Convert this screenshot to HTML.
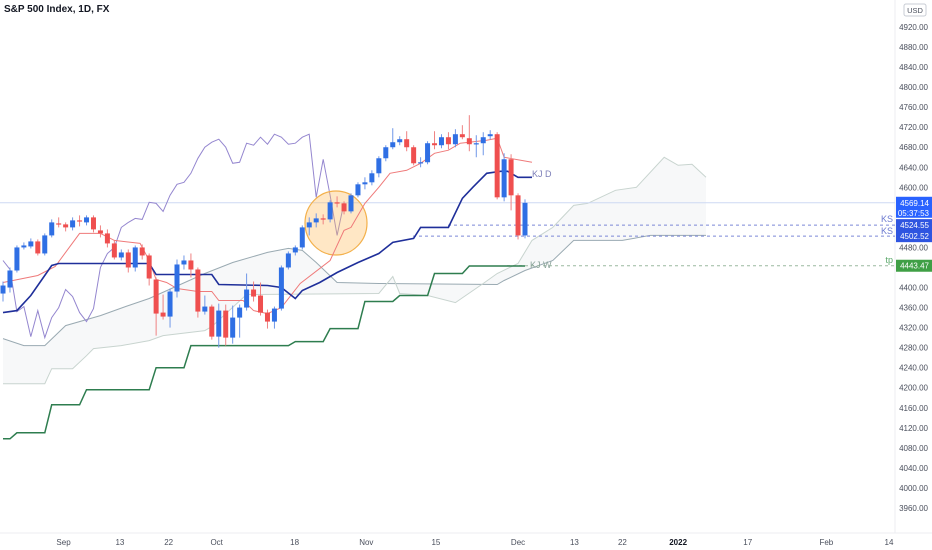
<!DOCTYPE html>
<html><head><meta charset="utf-8">
<style>
html,body{margin:0;padding:0;background:#fff;}
body{width:932px;height:550px;overflow:hidden;position:relative;font-family:"Liberation Sans",sans-serif;}
#chart{position:absolute;left:0;top:0;}
.title{position:absolute;left:4px;top:4px;font-size:10px;font-weight:bold;color:#131722;}
</style></head>
<body>
<div class="title">S&amp;P 500 Index, 1D, FX</div>
<svg id="chart" width="932" height="550" xmlns="http://www.w3.org/2000/svg"></svg>
<script>
// ---- data ----
const opens  = [4388,4400,4434,4480,4482,4492,4468,4504,4528,4526,4520,4534,4530,4540,4514,4508,4488,4460,4470,4440,4480,4464,4416,4350,4342,4392,4446,4454,4436,4352,4362,4302,4354,4300,4340,4360,4396,4384,4350,4332,4358,4440,4470,4480,4520,4530,4538,4536,4570,4568,4552,4584,4606,4610,4628,4658,4680,4690,4696,4680,4648,4650,4688,4684,4700,4686,4706,4698,4686,4688,4702,4706,4580,4656,4584,4504];
const closes = [4404,4434,4480,4484,4492,4468,4504,4530,4526,4520,4534,4532,4540,4516,4508,4488,4460,4470,4440,4480,4464,4418,4348,4342,4392,4446,4454,4436,4352,4362,4302,4354,4300,4340,4360,4396,4382,4350,4332,4358,4440,4468,4480,4520,4530,4538,4536,4570,4568,4552,4584,4606,4610,4628,4658,4680,4690,4696,4680,4648,4650,4688,4684,4700,4686,4706,4700,4686,4688,4700,4706,4580,4656,4584,4504,4569];
const highs  = [4412,4440,4484,4490,4498,4496,4508,4536,4540,4530,4540,4544,4544,4544,4524,4516,4494,4476,4476,4484,4486,4468,4420,4386,4398,4456,4464,4468,4440,4384,4366,4368,4366,4364,4366,4428,4412,4410,4356,4362,4444,4472,4484,4524,4540,4548,4546,4574,4582,4572,4588,4610,4620,4634,4662,4684,4718,4702,4712,4684,4660,4692,4712,4706,4710,4716,4724,4744,4704,4710,4714,4710,4668,4666,4588,4576];
const lows   = [4372,4390,4430,4476,4478,4464,4464,4500,4520,4512,4514,4522,4524,4510,4500,4480,4456,4454,4430,4432,4456,4404,4304,4336,4320,4380,4436,4420,4340,4346,4296,4280,4284,4288,4300,4354,4372,4344,4318,4318,4354,4436,4464,4476,4504,4520,4526,4530,4560,4546,4548,4580,4596,4604,4620,4652,4676,4684,4672,4644,4640,4646,4676,4678,4676,4680,4696,4672,4660,4664,4696,4576,4572,4554,4496,4498];
const kijunIdx = [0,2,4,7,8,21,22,30,31,38,40,42,43,45.5,48,51,54,56,59,60,64,66,67.5,69.5,71.5,72.5,74,76];
const kijunVal = [4350,4354,4384,4444,4448,4448,4426,4426,4406,4404,4400,4378,4394,4410,4430,4450,4468,4490,4498,4520,4520,4578,4600,4628,4632,4632,4620,4620];
const tenkanIdx = [0,5,7.5,11,14,16,19.7,21,22,23.5,25,28,30,31,34.5,36,38,40,42.7,47,49,50,52,54,55.6,58,60,62,64,65.7,69.5,71,72,76];
const tenkanVal = [4410,4424,4442,4508,4508,4494,4488,4454,4416,4410,4398,4392,4392,4374,4374,4354,4348,4360,4408,4454,4514,4520,4568,4600,4628,4634,4648,4668,4674,4688,4694,4698,4660,4650];
const spanAIdx = [0,3,6,9,14,18,21,29,33,38,41,43,45,48,54,71,72,75,79,82,89,93,101];
const spanAVal = [4298,4284,4284,4324,4344,4364,4378,4428,4450,4470,4478,4474,4450,4410,4408,4406,4414,4434,4454,4494,4494,4504,4504];
const spanBIdx = [0,6,7,10,12,13,17,21,23,29,30,35,54,56,57,61,65,69,71,74,76,79,82,84,88,91,95,97,99,101];
const spanBVal = [4208,4208,4238,4238,4264,4278,4284,4294,4304,4314,4322,4386,4388,4422,4388,4384,4370,4408,4428,4448,4494,4520,4564,4568,4594,4600,4660,4644,4646,4620];
const weekIdx = [0,2,7,12,22,27,42,47,52,57,62,67];
const weekVal = [4098,4110,4166,4196,4240,4284,4292,4318,4372,4384,4428,4443];
const chikouShift = 26;
const priceTicks = [4920,4880,4840,4800,4760,4720,4680,4640,4600,4560,4520,4480,4440,4400,4360,4320,4280,4240,4200,4160,4120,4080,4040,4000,3960];
const dateLabels = ["Sep","13","22","Oct","18","Nov","15","Dec","13","22","2022","17","Feb","14"];
const dateIdx = [8.7,16.8,23.8,30.7,41.9,52.2,62.2,74,82.1,89,97,107,118.3,127.3];
const lastPrice = 4569.14, ksHigh = 4524.55, ksLow = 4502.52, tpLevel = 4443.47;

// ---- scales ----
const X = i => 3 + i * 6.96;
const Y = p => 27 + (4920 - p) * 0.501;
const svg = document.getElementById('chart');
const NS = 'http://www.w3.org/2000/svg';
function mk(tag, attrs, parent){ const e=document.createElementNS(NS,tag); for(const k in attrs) e.setAttribute(k,attrs[k]); (parent||svg).appendChild(e); return e; }
function pts(idx, vals){ return idx.map((i,k)=>X(i).toFixed(1)+','+Y(vals[k]).toFixed(1)).join(' '); }

let e;
e = mk('line',{x1:895,y1:0,x2:895,y2:533,stroke:'#eceef2','stroke-width':1});


e = mk('line',{x1:0,y1:533,x2:932,y2:533,stroke:'#eceef2','stroke-width':1});



// cloud
const cloudPts = pts(spanAIdx, spanAVal) + ' ' + pts(spanBIdx.slice().reverse(), spanBVal.slice().reverse());
e = mk('polygon',{points:cloudPts,fill:'rgba(205,210,215,0.16)',stroke:'none'});


e = mk('polyline',{points:pts(spanAIdx,spanAVal),fill:'none',stroke:'#9aaab2','stroke-width':1});


e = mk('polyline',{points:pts(spanBIdx,spanBVal),fill:'none',stroke:'#c8d4cf','stroke-width':1});



// horizontal levels
e = mk('line',{x1:0,y1:Y(lastPrice),x2:895,y2:Y(lastPrice),stroke:'#cdd9f3','stroke-width':1});


e = mk('line',{x1:448,y1:Y(ksHigh),x2:895,y2:Y(ksHigh),stroke:'#7b86d6','stroke-width':1,'stroke-dasharray':'3,3'});


e = mk('line',{x1:413,y1:Y(ksLow),x2:895,y2:Y(ksLow),stroke:'#7b86d6','stroke-width':1,'stroke-dasharray':'3,3'});


e = mk('line',{x1:507,y1:Y(tpLevel),x2:895,y2:Y(tpLevel),stroke:'#9ab89f','stroke-width':1,'stroke-dasharray':'3,3'});



// weekly kijun step line
let wp = [];
for (let k=0;k<weekIdx.length;k++){
  if (k>0) wp.push(X(weekIdx[k]-1).toFixed(1)+','+Y(weekVal[k-1]).toFixed(1));
  wp.push(X(weekIdx[k]).toFixed(1)+','+Y(weekVal[k]).toFixed(1));
}
wp.push(X(75).toFixed(1)+','+Y(weekVal[weekVal.length-1]).toFixed(1));
e = mk('polyline',{points:wp.join(' '),fill:'none',stroke:'#2e7d4f','stroke-width':1.5});



// chikou
let cp = [];
for (let i=chikouShift;i<closes.length;i++) cp.push(X(i-chikouShift).toFixed(1)+','+Y(closes[i]).toFixed(1));
e = mk('polyline',{points:cp.join(' '),fill:'none',stroke:'#9486cf','stroke-width':1});



// highlight circle (behind candles)
e = mk('ellipse',{cx:336,cy:223,rx:31,ry:32,fill:'rgba(255,186,90,0.35)',stroke:'#f3b04a','stroke-width':1.2});



// tenkan & kijun
e = mk('polyline',{points:pts(tenkanIdx,tenkanVal),fill:'none',stroke:'#ef7a7a','stroke-width':1});


e = mk('polyline',{points:pts(kijunIdx,kijunVal),fill:'none',stroke:'#1f2f9a','stroke-width':1.6});



// candles
const cg = mk('g',{});


for (let i=0;i<opens.length;i++){
  const up = closes[i]>=opens[i];
  const col = up ? '#2f6fe4' : '#ef4f4f';
  const wcol = up ? '#6f97e8' : '#ef8282';
  const x = X(i);
  const w = mk('line',{x1:x,y1:Y(highs[i]),x2:x,y2:Y(lows[i]),stroke:wcol,'stroke-width':1},cg);
  
  
  const top = Y(Math.max(opens[i],closes[i])), bot = Y(Math.min(opens[i],closes[i]));
  const b = mk('rect',{x:x-2.5,y:top,width:5,height:Math.max(1.2,bot-top),fill:col},cg);
  
  
}

function txt(x,y,s,attrs){ const t=mk('text',Object.assign({x:x,y:y,'font-size':9,'font-family':'Liberation Sans, sans-serif'},attrs)); t.textContent=s; return t; }
e = txt(532,177,'KJ D',{fill:'#7d7fb8'});


e = txt(530,268,'KJ W',{fill:'#8aa39a'});


e = txt(893,222,'KS',{fill:'#6c7ad0','text-anchor':'end'});


e = txt(893,234,'KS',{fill:'#6c7ad0','text-anchor':'end'});


e = txt(893,263,'tp',{fill:'#5aa86a','text-anchor':'end'});



for (let k=0;k<priceTicks.length;k++){
  const t = txt(928,Y(priceTicks[k])+3,priceTicks[k].toFixed(2),{fill:'#4a4f5c','font-size':8,'text-anchor':'end'});
  
  
}
e = mk('rect',{x:904,y:4,width:22,height:12,rx:2,fill:'#fff',stroke:'#c8ccd4'});


e = txt(915,13,'USD',{fill:'#4a4f5c','font-size':7.5,'text-anchor':'middle'});



function badge(p,label,color,h,sub,name){
  const y0 = Y(p)-6;
  const r = mk('rect',{x:896,y:y0,width:36,height:h,fill:color});
  
  
  const t = txt(929,y0+9,label,{fill:'#fff','font-size':8,'text-anchor':'end'});
  
  
  if (sub){ const s=txt(929,y0+19,sub,{fill:'#fff','font-size':8,'text-anchor':'end'});
    
     }
}
badge(lastPrice,lastPrice.toFixed(2),'#2962ff',21,'05:37:53','last-price-badge');
badge(ksHigh,ksHigh.toFixed(2),'#2f55e0',12,null,'ks-upper-badge');
badge(ksLow,ksLow.toFixed(2),'#2f55e0',12,null,'ks-lower-badge');
badge(tpLevel,tpLevel.toFixed(2),'#3f9f45',12,null,'tp-badge');

for (let k=0;k<dateLabels.length;k++){
  const bold = dateLabels[k]==='2022';
  const t = txt(X(dateIdx[k]),545,dateLabels[k],{fill:bold?'#131722':'#4a4f5c','font-size':8,'text-anchor':'middle','font-weight':bold?'bold':'normal'});
  
  
}
</script>
</body></html>
